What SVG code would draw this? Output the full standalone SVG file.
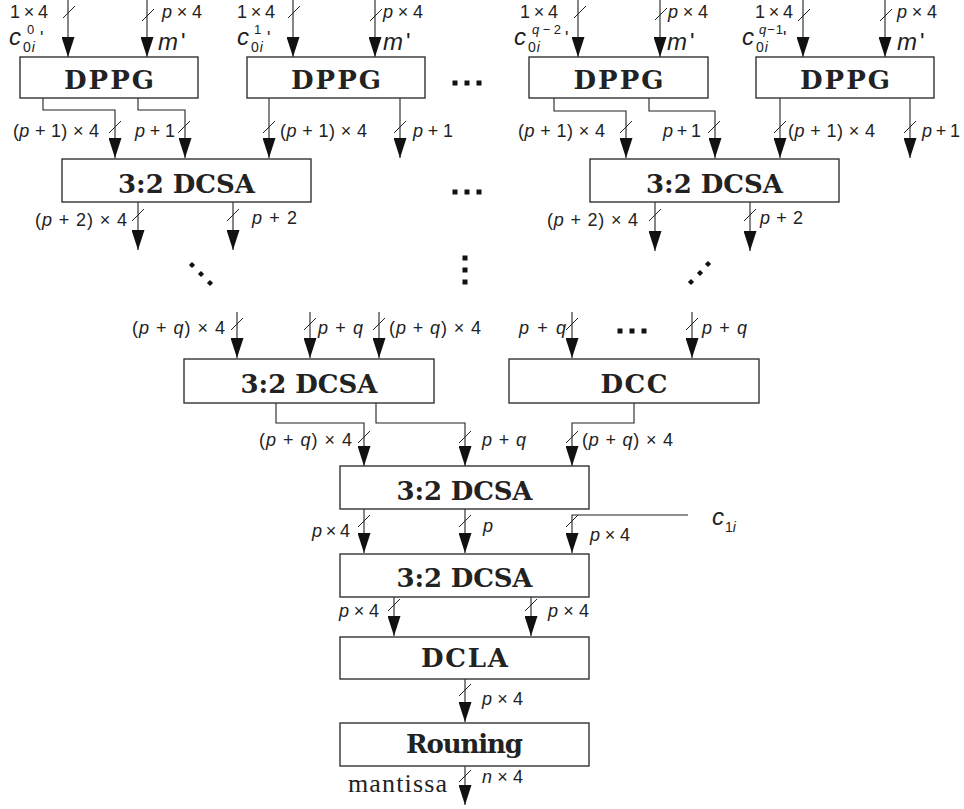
<svg xmlns="http://www.w3.org/2000/svg" xmlns:xlink="http://www.w3.org/1999/xlink" width="964" height="809" viewBox="0 0 964 809">
<defs>
<marker id="ah" viewBox="0 0 20 13" refX="20" refY="6.5" markerWidth="20" markerHeight="13" markerUnits="userSpaceOnUse" orient="auto"><path d="M0,0 L20,6.5 L0,13 z" fill="#111"/></marker>
<path id="tk" d="M-6,6 L6,-6" stroke="#222" stroke-width="1"/>
<rect id="sq" x="-2.5" y="-2.5" width="5" height="5" fill="#111"/>
<rect id="dm" x="-2.2" y="-2.2" width="4.4" height="4.4" fill="#111" transform="rotate(45)"/>
</defs>
<style>
.box{fill:#fff;stroke:#333;stroke-width:1.4}
.bt{font-family:"DejaVu Serif",serif;font-weight:bold;font-size:26px;fill:#222;text-anchor:middle}
.c{fill:none;stroke:#222;stroke-width:1.1}
.a{marker-end:url(#ah)}
.l{font-family:"Liberation Sans",Arial,sans-serif;font-size:18px;fill:#222}
.big{font-family:"Liberation Sans",Arial,sans-serif;font-size:24px;fill:#222;font-style:italic}
.sub{font-family:"Liberation Sans",Arial,sans-serif;font-size:14px;fill:#222}
.sup{font-family:"Liberation Sans",Arial,sans-serif;font-size:13px;fill:#222}
.it{font-style:italic}
.rm{font-family:"Liberation Serif","Times New Roman",serif;font-size:26px;fill:#222}
</style>
<rect width="964" height="809" fill="#fff"/>

<g id="connectors">
<path class="c a" d="M68,0 V57"/><path class="c a" d="M147,0 V57"/>
<path class="c a" d="M293,0 V57"/><path class="c a" d="M375,0 V57"/>
<path class="c a" d="M578,0 V57"/><path class="c a" d="M660,0 V57"/>
<path class="c a" d="M803,0 V57"/><path class="c a" d="M885,0 V57"/>
<path class="c a" d="M43,98 V110 H115 V158"/><path class="c a" d="M138,98 V110 H185 V158"/>
<path class="c a" d="M269,98 V158"/><path class="c a" d="M400,98 V158"/>
<path class="c a" d="M554,98 V111 H626 V158"/><path class="c a" d="M649,98 V111 H715 V158"/>
<path class="c a" d="M780,98 V158"/><path class="c a" d="M910,98 V158"/>
<path class="c a" d="M138,202 V250"/><path class="c a" d="M233,202 V250"/>
<path class="c a" d="M655,202 V251"/><path class="c a" d="M750,202 V251"/>
<path class="c a" d="M237,312 V358"/><path class="c a" d="M310,312 V358"/><path class="c a" d="M379,312 V358"/>
<path class="c a" d="M572,312 V358"/><path class="c a" d="M692,312 V358"/>
<path class="c a" d="M276,403 V423 H364 V466"/><path class="c a" d="M376,403 V423 H465 V466"/>
<path class="c a" d="M634,403 V423 H572 V466"/>
<path class="c a" d="M364,509 V553"/><path class="c a" d="M465,509 V553"/>
<path class="c a" d="M688,515 H572 V553"/>
<path class="c a" d="M394,597 V636"/><path class="c a" d="M531,597 V636"/>
<path class="c a" d="M465,679 V722"/>
<path class="c a" d="M465,766 V805"/>
<use xlink:href="#tk" x="69" y="12"/><use xlink:href="#tk" x="148" y="15"/>
<use xlink:href="#tk" x="294" y="12"/><use xlink:href="#tk" x="376" y="15"/>
<use xlink:href="#tk" x="580" y="12"/><use xlink:href="#tk" x="661" y="14"/>
<use xlink:href="#tk" x="804" y="15"/><use xlink:href="#tk" x="886" y="15"/>
<use xlink:href="#tk" x="115" y="127"/><use xlink:href="#tk" x="184" y="127"/>
<use xlink:href="#tk" x="269" y="127"/><use xlink:href="#tk" x="400" y="127"/>
<use xlink:href="#tk" x="626" y="127"/><use xlink:href="#tk" x="714" y="127"/>
<use xlink:href="#tk" x="780" y="127"/><use xlink:href="#tk" x="910" y="127"/>
<use xlink:href="#tk" x="138" y="215"/><use xlink:href="#tk" x="233" y="215"/>
<use xlink:href="#tk" x="655" y="215"/><use xlink:href="#tk" x="750" y="215"/>
<use xlink:href="#tk" x="237" y="324"/><use xlink:href="#tk" x="310" y="324"/><use xlink:href="#tk" x="379" y="324"/>
<use xlink:href="#tk" x="572" y="324"/><use xlink:href="#tk" x="692" y="324"/>
<use xlink:href="#tk" x="364" y="437"/><use xlink:href="#tk" x="465" y="437"/><use xlink:href="#tk" x="572" y="437"/>
<use xlink:href="#tk" x="364" y="521"/><use xlink:href="#tk" x="465" y="521"/><use xlink:href="#tk" x="572" y="521"/>
<use xlink:href="#tk" x="394" y="605"/><use xlink:href="#tk" x="531" y="605"/>
<use xlink:href="#tk" x="465" y="690"/>
<use xlink:href="#tk" x="465" y="776"/>
</g>

<g id="labels">
<text class="l" x="10" y="18" textLength="38">1 × 4</text>
<text class="l" x="162" y="18" textLength="40"><tspan class="it">p</tspan> × 4</text>
<text class="l" x="237" y="18" textLength="38">1 × 4</text>
<text class="l" x="383" y="18" textLength="40"><tspan class="it">p</tspan> × 4</text>
<text class="l" x="520" y="18" textLength="38">1 × 4</text>
<text class="l" x="668" y="18" textLength="40"><tspan class="it">p</tspan> × 4</text>
<text class="l" x="755" y="18" textLength="38">1 × 4</text>
<text class="l" x="897" y="18" textLength="40"><tspan class="it">p</tspan> × 4</text>
<text class="big" x="158" y="50">m<tspan dx="3" font-style="normal">'</tspan></text>
<text class="big" x="383" y="50">m<tspan dx="3" font-style="normal">'</tspan></text>
<text class="big" x="667" y="50">m<tspan dx="3" font-style="normal">'</tspan></text>
<text class="big" x="897" y="50">m<tspan dx="3" font-style="normal">'</tspan></text>
<text class="big" x="9" y="45">c</text><text class="sup" x="27" y="34">0</text><text class="sub" x="23" y="52">0<tspan class="it" dx="1">i</tspan></text><text class="l" x="40" y="44">'</text>
<text class="big" x="237" y="45">c</text><text class="sup" x="254" y="34">1</text><text class="sub" x="251" y="52">0<tspan class="it" dx="1">i</tspan></text><text class="l" x="267" y="44">'</text>
<text class="big" x="514" y="45">c</text><text class="sup" x="532" y="34" textLength="29"><tspan class="it">q</tspan>−2</text><text class="sub" x="528" y="52">0<tspan class="it" dx="1">i</tspan></text><text class="l" x="565" y="44">'</text>
<text class="big" x="742" y="45">c</text><text class="sup" x="759" y="34" textLength="24"><tspan class="it">q</tspan>−1</text><text class="sub" x="756" y="52">0<tspan class="it" dx="1">i</tspan></text><text class="l" x="783" y="44">'</text>
<text class="l" x="13" y="137" textLength="86">(<tspan class="it">p</tspan> + 1) × 4</text>
<text class="l" x="135" y="137" textLength="40"><tspan class="it">p</tspan> + 1</text>
<text class="l" x="280" y="137" textLength="87">(<tspan class="it">p</tspan> + 1) × 4</text>
<text class="l" x="413" y="137" textLength="40"><tspan class="it">p</tspan> + 1</text>
<text class="l" x="518" y="137" textLength="87">(<tspan class="it">p</tspan> + 1) × 4</text>
<text class="l" x="663" y="137" textLength="38"><tspan class="it">p</tspan> + 1</text>
<text class="l" x="788" y="137" textLength="87">(<tspan class="it">p</tspan> + 1) × 4</text>
<text class="l" x="922" y="137" textLength="38"><tspan class="it">p</tspan> + 1</text>
<text class="l" x="35" y="226" textLength="92">(<tspan class="it">p</tspan> + 2) × 4</text>
<text class="l" x="252" y="224" textLength="45"><tspan class="it">p</tspan> + 2</text>
<text class="l" x="547" y="226" textLength="91">(<tspan class="it">p</tspan> + 2) × 4</text>
<text class="l" x="760" y="224" textLength="43"><tspan class="it">p</tspan> + 2</text>
<text class="l" x="132" y="334" textLength="93">(<tspan class="it">p</tspan> + <tspan class="it">q</tspan>) × 4</text>
<text class="l" x="318" y="334" textLength="45"><tspan class="it">p</tspan> + <tspan class="it">q</tspan></text>
<text class="l" x="389" y="334" textLength="92">(<tspan class="it">p</tspan> + <tspan class="it">q</tspan>) × 4</text>
<text class="l" x="519" y="334" textLength="47"><tspan class="it">p</tspan> + <tspan class="it">q</tspan></text>
<text class="l" x="702" y="334" textLength="45"><tspan class="it">p</tspan> + <tspan class="it">q</tspan></text>
<text class="l" x="259" y="446" textLength="93">(<tspan class="it">p</tspan> + <tspan class="it">q</tspan>) × 4</text>
<text class="l" x="482" y="446" textLength="44"><tspan class="it">p</tspan> + <tspan class="it">q</tspan></text>
<text class="l" x="582" y="446" textLength="91">(<tspan class="it">p</tspan> + <tspan class="it">q</tspan>) × 4</text>
<text class="l" x="312" y="537" textLength="38"><tspan class="it">p</tspan> × 4</text>
<text class="l it" x="483" y="532">p</text>
<text class="l" x="590" y="541" textLength="40"><tspan class="it">p</tspan> × 4</text>
<text class="big" x="712" y="525">c</text><text class="sub" x="725" y="532">1<tspan class="it">i</tspan></text>
<text class="l" x="339" y="617" textLength="40"><tspan class="it">p</tspan> × 4</text>
<text class="l" x="548" y="617" textLength="41"><tspan class="it">p</tspan> × 4</text>
<text class="l" x="482" y="705" textLength="41"><tspan class="it">p</tspan> × 4</text>
<text class="l" x="482" y="783" textLength="41"><tspan class="it">n</tspan> × 4</text>
<text class="rm" x="348" y="792" textLength="99">mantissa</text>
</g>

<g id="ellipses">
<use xlink:href="#sq" x="455" y="83"/><use xlink:href="#sq" x="467" y="83"/><use xlink:href="#sq" x="479" y="83"/>
<use xlink:href="#sq" x="455" y="192"/><use xlink:href="#sq" x="467" y="192"/><use xlink:href="#sq" x="479" y="192"/>
<use xlink:href="#sq" x="620" y="331"/><use xlink:href="#sq" x="632" y="331"/><use xlink:href="#sq" x="644" y="331"/>
<use xlink:href="#dm" x="192" y="265"/><use xlink:href="#dm" x="201" y="274"/><use xlink:href="#dm" x="210" y="283"/>
<use xlink:href="#sq" x="465" y="258"/><use xlink:href="#sq" x="465" y="270"/><use xlink:href="#sq" x="465" y="282"/>
<use xlink:href="#dm" x="691" y="282"/><use xlink:href="#dm" x="700" y="273"/><use xlink:href="#dm" x="708" y="264"/>
</g>

<g id="dppg1"><rect class="box" x="20" y="57" width="178" height="41"/><text class="bt" x="109" y="89" textLength="90">DPPG</text></g>
<g id="dppg2"><rect class="box" x="247" y="57" width="178" height="41"/><text class="bt" x="336" y="89" textLength="90">DPPG</text></g>
<g id="dppg3"><rect class="box" x="529" y="57" width="179" height="41"/><text class="bt" x="618.5" y="89" textLength="90">DPPG</text></g>
<g id="dppg4"><rect class="box" x="756" y="57" width="178" height="41"/><text class="bt" x="845" y="89" textLength="90">DPPG</text></g>
<g id="dcsa1"><rect class="box" x="62" y="159" width="249" height="43"/><text class="bt" x="186.5" y="193" textLength="137">3:2 DCSA</text></g>
<g id="dcsa2"><rect class="box" x="590" y="159" width="249" height="43"/><text class="bt" x="714.5" y="193" textLength="137">3:2 DCSA</text></g>
<g id="dcsa3"><rect class="box" x="184" y="359" width="250" height="44"/><text class="bt" x="309" y="393" textLength="137">3:2 DCSA</text></g>
<g id="dcc"><rect class="box" x="509" y="359" width="250" height="44"/><text class="bt" x="634" y="393" textLength="67">DCC</text></g>
<g id="dcsa4"><rect class="box" x="340" y="466" width="249" height="43"/><text class="bt" x="464.5" y="500" textLength="136">3:2 DCSA</text></g>
<g id="dcsa5"><rect class="box" x="340" y="554" width="249" height="43"/><text class="bt" x="464.5" y="587" textLength="136">3:2 DCSA</text></g>
<g id="dcla"><rect class="box" x="340" y="637" width="249" height="42"/><text class="bt" x="464.5" y="667" textLength="87">DCLA</text></g>
<g id="rouning"><rect class="box" x="340" y="723" width="249" height="43"/><text class="bt" x="464.5" y="753" textLength="117">Rouning</text></g>
</svg>
